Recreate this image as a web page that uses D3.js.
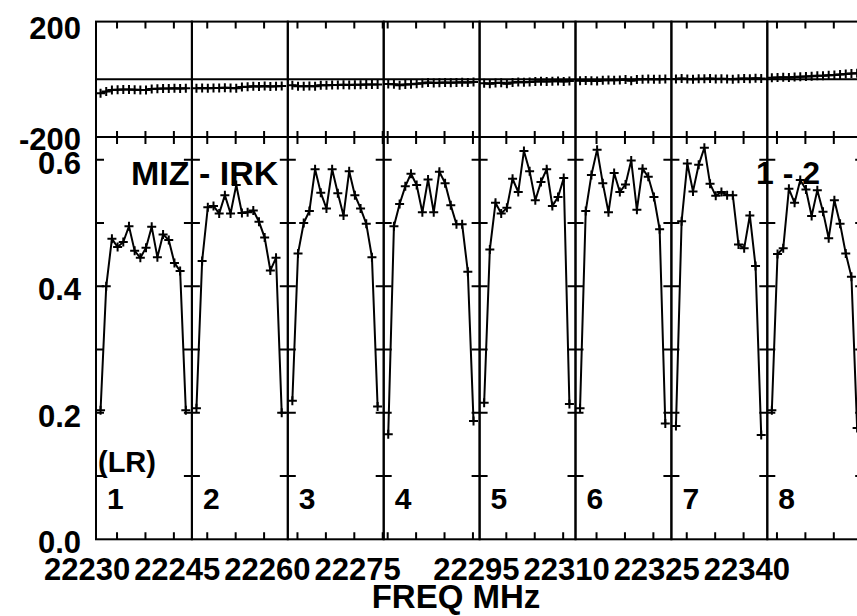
<!DOCTYPE html>
<html>
<head>
<meta charset="utf-8">
<script src="https://cdn.jsdelivr.net/npm/d3@7/dist/d3.min.js"></script>
<style>
  body { margin: 0; background: #fff; }
  svg { display: block; }
  .lbl { font-family: "Liberation Sans", Arial, sans-serif; font-weight: bold; fill: #000; }
</style>
</head>
<body>
<svg class="possm"></svg>
<script>
// IF numbers and the frequency of the first channel of each IF (MHz)
const ifNames = ["1", "2", "3", "4", "5", "6", "7", "8"];
const firstChanFreq = [22227.1, 22243.1, 22259.1, 22275.1, 22291.1, 22307.1, 22323.1, 22339.1];
const chanWidth = 1.0;

// amplitude per channel, 16 channels per IF
const amp1 = [0.204, 0.400, 0.475, 0.462, 0.470, 0.495, 0.456, 0.445, 0.461, 0.494, 0.446, 0.482, 0.473, 0.437, 0.424, 0.204];
const amp2 = [0.207, 0.440, 0.525, 0.527, 0.515, 0.544, 0.515, 0.560, 0.516, 0.517, 0.520, 0.502, 0.477, 0.425, 0.445, 0.200];
const amp3 = [0.219, 0.452, 0.500, 0.519, 0.585, 0.548, 0.523, 0.585, 0.547, 0.512, 0.582, 0.544, 0.523, 0.499, 0.446, 0.210];
const amp4 = [0.166, 0.495, 0.530, 0.558, 0.578, 0.560, 0.517, 0.569, 0.517, 0.581, 0.563, 0.528, 0.498, 0.498, 0.423, 0.187];
const amp5 = [0.216, 0.458, 0.532, 0.515, 0.524, 0.570, 0.549, 0.614, 0.582, 0.536, 0.565, 0.585, 0.527, 0.541, 0.571, 0.214];
const amp6 = [0.207, 0.519, 0.576, 0.616, 0.563, 0.517, 0.579, 0.549, 0.561, 0.599, 0.521, 0.586, 0.573, 0.541, 0.490, 0.183];
const amp7 = [0.179, 0.503, 0.594, 0.550, 0.592, 0.619, 0.562, 0.543, 0.549, 0.544, 0.544, 0.466, 0.460, 0.512, 0.432, 0.165];
const amp8 = [0.204, 0.451, 0.460, 0.554, 0.532, 0.568, 0.553, 0.511, 0.552, 0.518, 0.476, 0.536, 0.499, 0.452, 0.415, 0.176];

// phase per channel (degrees)
const pha1 = [-48, -42, -37, -36, -35, -35, -36, -37, -37, -34, -33, -32, -32, -31, -32, -31];
const pha2 = [-31, -30, -31, -30, -30, -29, -30, -31, -27, -26, -24, -25, -23, -25, -24, -23];
const pha3 = [-21, -24, -24, -23, -24, -21, -21, -20, -20, -19, -20, -19, -19, -18, -18, -18];
const pha4 = [-16, -17, -21, -18, -17, -15, -14, -11, -13, -12, -11, -12, -11, -10, -11, -9];
const pha5 = [-14, -15, -13, -12, -15, -11, -9, -10, -9, -8, -7, -8, -7, -6, -8, -6];
const pha6 = [-5, -4, -5, -6, -3, -2, -3, -2, -1, -5, -1, 0, 1, 0, 0, 1];
const pha7 = [1, 3, 1, 0, 2, 2, 3, 1, 2, 1, 0, 2, 3, 2, 4, 3];
const pha8 = [5, 6, 7, 6, 8, 9, 10, 11, 12, 12, 14, 15, 17, 18, 20, 21];

// axis ticks and labels
const ampTicks = [0.1, 0.2, 0.3, 0.4, 0.5, 0.6];
const ampLabels = ["0.0", "0.2", "0.4", "0.6"];
const phaseLabels = ["200", "-200"];
const freqLabels = ["22230", "22245", "22260", "22275", "22295", "22310", "22325", "22340"];

const amps = [amp1, amp2, amp3, amp4, amp5, amp6, amp7, amp8];
const phases = [pha1, pha2, pha3, pha4, pha5, pha6, pha7, pha8];

const width = 857, height = 616;
const left = 96, boxW = 95.9;
const phaseTop = 21.6, split = 137, ampBottom = 539.3;
const padLo = 0.8, boxSpan = 16.87; // MHz shown in each IF box

const svg = d3.select(".possm")
    .attr("width", width)
    .attr("height", height);

const yPha = d3.scaleLinear().domain([-200, 200]).range([split, phaseTop]);
const yAmp = d3.scaleLinear().domain([0, 0.636]).range([ampBottom, split]);

const frame = svg.append("g")
    .attr("fill", "none")
    .attr("stroke", "#000")
    .attr("stroke-width", 2);

const plus = (x, y) => `M${x - 4.5},${y}h9M${x},${y - 4.5}v9`;

ifNames.forEach((name, i) => {
    const x0 = left + i * boxW;
    const fStart = firstChanFreq[i] - padLo;
    const x = d3.scaleLinear()
        .domain([fStart, fStart + boxSpan])
        .range([x0, x0 + boxW]);

    const pts = amps[i].map((a, c) => ({f: firstChanFreq[i] + c * chanWidth, a: a, p: phases[i][c]}));

    // box
    frame.append("rect")
        .attr("x", x0).attr("y", phaseTop)
        .attr("width", boxW).attr("height", ampBottom - phaseTop);

    // amplitude ticks on both sides of the box
    frame.selectAll(null)
        .data(ampTicks)
        .enter().append("path")
        .attr("d", v => `M${x0},${yAmp(v)}h8M${x0 + boxW},${yAmp(v)}h-8`);

    // frequency ticks every 5 MHz
    const fticks = d3.range(Math.ceil(fStart / 5) * 5, fStart + boxSpan, 5);
    frame.selectAll(null)
        .data(fticks)
        .enter().append("path")
        .attr("d", f => `M${x(f)},${ampBottom}v-7M${x(f)},${split - 6}v13M${x(f)},${phaseTop}v7`);

    // frequency label at first tick of the box
    svg.append("text")
        .attr("class", "lbl")
        .attr("x", x(+freqLabels[i]) - 30)
        .attr("y", 580)
        .attr("text-anchor", "middle")
        .style("font-size", "31px")
        .text(freqLabels[i]);

    // IF number
    svg.append("text")
        .attr("class", "lbl")
        .attr("x", x0 + 11)
        .attr("y", 509)
        .style("font-size", "30px")
        .text(name);

    // amplitude line and markers
    const ampLine = d3.line().x(d => x(d.f)).y(d => yAmp(d.a));
    svg.append("path")
        .datum(pts)
        .attr("d", ampLine)
        .attr("fill", "none")
        .attr("stroke", "#000")
        .attr("stroke-width", 2);
    svg.append("path")
        .attr("d", pts.map(d => plus(x(d.f), yAmp(d.a))).join(""))
        .attr("stroke", "#000")
        .attr("stroke-width", 2);

    // phase line and markers
    const phaLine = d3.line().x(d => x(d.f)).y(d => yPha(d.p));
    svg.append("path")
        .datum(pts)
        .attr("d", phaLine)
        .attr("fill", "none")
        .attr("stroke", "#000")
        .attr("stroke-width", 2);
    svg.append("path")
        .attr("d", pts.map(d => plus(x(d.f), yPha(d.p))).join(""))
        .attr("stroke", "#000")
        .attr("stroke-width", 2);
});

// panel divider and zero phase line
const xEnd = left + ifNames.length * boxW;
frame.append("path").attr("d", `M${left},${split}H${xEnd}`);
frame.append("path").attr("d", `M${left},${yPha(0)}H${xEnd}`);

// y labels
svg.selectAll(".amplbl")
    .data(ampLabels)
    .enter().append("text")
    .attr("class", "lbl amplbl")
    .attr("x", 81)
    .attr("y", d => yAmp(+d) + 14)
    .attr("text-anchor", "end")
    .style("font-size", "31px")
    .text(d => d);

svg.selectAll(".phalbl")
    .data(phaseLabels)
    .enter().append("text")
    .attr("class", "lbl phalbl")
    .attr("x", 81)
    .attr("y", d => yPha(+d) + (+d > 0 ? 17 : 13))
    .attr("text-anchor", "end")
    .style("font-size", "31px")
    .text(d => d);

// titles
svg.append("text").attr("class", "lbl")
    .attr("x", 456).attr("y", 608)
    .attr("text-anchor", "middle")
    .style("font-size", "33px")
    .text("FREQ MHz");

svg.append("text").attr("class", "lbl")
    .attr("x", 131).attr("y", 185)
    .style("font-size", "34px")
    .text("MIZ - IRK");

svg.append("text").attr("class", "lbl")
    .attr("x", 756).attr("y", 184)
    .style("font-size", "32px")
    .text("1 - 2");

svg.append("text").attr("class", "lbl")
    .attr("x", 98).attr("y", 472)
    .style("font-size", "29px")
    .text("(LR)");
</script>
</body>
</html>
